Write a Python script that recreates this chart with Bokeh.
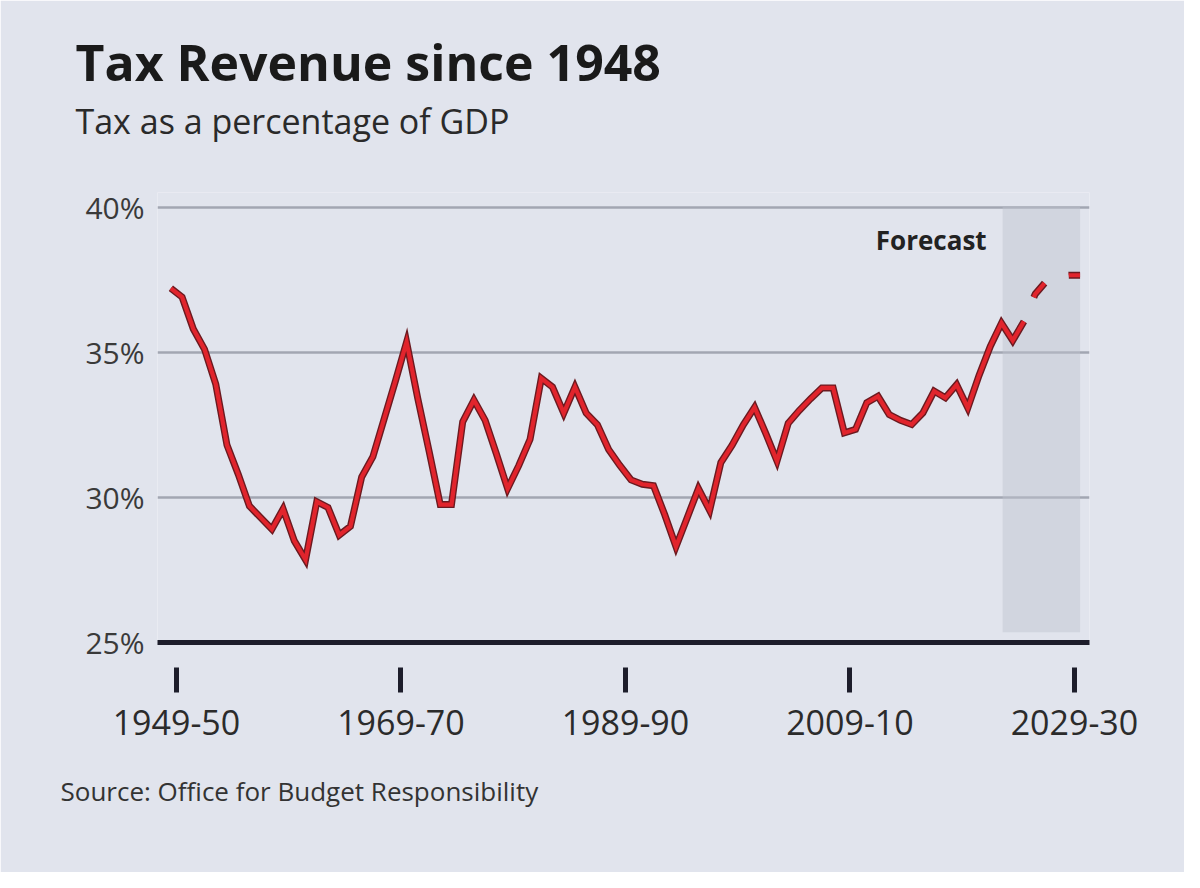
from bokeh.plotting import figure
from bokeh.models import Range1d, FixedTicker, Title, Label, BoxAnnotation
from bokeh.embed import file_html
from bokeh.resources import INLINE

# ---------------- data ----------------
outturn_years = list(range(1948, 2025))          # fiscal year start, e.g. 1948 -> 1948-49
outturn_pct = [
    37.2, 36.9, 35.8, 35.1, 33.9, 31.8, 30.8, 29.7, 29.3, 28.9,      # 1948-1957
    29.6, 28.5, 27.85, 29.85, 29.65, 28.7, 29.0, 30.7, 31.4, 32.7,   # 1958-1967
    34.0, 35.35, 33.4, 31.6, 29.75, 29.75, 32.6, 33.35, 32.65, 31.5, # 1968-1977
    30.3, 31.1, 32.0, 34.1, 33.8, 32.9, 33.8, 32.9, 32.5, 31.65,     # 1978-1987
    31.1, 30.6, 30.45, 30.4, 29.4, 28.3, 29.3, 30.3, 29.55, 31.2,    # 1988-1997
    31.8, 32.5, 33.1, 32.2, 31.25, 32.55, 33.0, 33.4, 33.77, 33.77,  # 1998-2007
    32.22, 32.34, 33.26, 33.48, 32.85, 32.65, 32.51, 32.91, 33.66, 33.43,  # 2008-2017
    33.88, 33.08, 34.2, 35.2, 36.0, 35.4, 36.06,                     # 2018-2024
]
forecast_years = [2024, 2025, 2026, 2027, 2028, 2029]
forecast_pct = [36.06, 37.0, 37.45, 37.6, 37.65, 37.65]

tick_years = [1949, 1969, 1989, 2009, 2029]
tick_labels = ["1949-50", "1969-70", "1989-90", "2009-10", "2029-30"]
y_ticks = [25, 30, 35, 40]
y_labels = ["25%", "30%", "35%", "40%"]
forecast_band = [2022.6, 2029.5]

# points sit in the middle of each fiscal year
x_out = [yr + 0.5 for yr in outturn_years]
x_fc = [yr + 0.5 for yr in forecast_years]

FONT = "Open Sans"
BG = "#e1e4ed"
INK = "#1d1d2b"

p = figure(
    width=1184, height=872,
    output_backend="svg", toolbar_location=None, title=None,
    x_range=Range1d(1947.31, 2030.34), y_range=Range1d(25, 40.5),
    min_border_left=157, min_border_right=95,
    min_border_top=192, min_border_bottom=230,
)
p.background_fill_color = BG
p.border_fill_color = BG
p.outline_line_color = None

# grid
p.xgrid.visible = False
p.ygrid.ticker = FixedTicker(ticks=y_ticks[1:])
p.ygrid.grid_line_color = "#a2a6b2"
p.ygrid.grid_line_width = 2.5

# x axis
xa = p.xaxis[0]
xa.ticker = FixedTicker(ticks=tick_years)
xa.major_label_overrides = dict(zip(tick_years, tick_labels))
xa.axis_line_width = 5
xa.axis_line_color = INK
xa.major_tick_line_width = 5
xa.major_tick_line_color = INK
xa.major_tick_in = -25
xa.major_tick_out = 50
xa.minor_tick_line_color = None
xa.major_label_standoff = 17
xa.major_label_text_font = FONT
xa.major_label_text_font_size = "34px"
xa.major_label_text_color = "#2b2b2b"

# y axis
ya = p.yaxis[0]
ya.ticker = FixedTicker(ticks=y_ticks)
ya.major_label_overrides = dict(zip(y_ticks, y_labels))
ya.axis_line_color = None
ya.major_tick_line_color = None
ya.minor_tick_line_color = None
ya.major_tick_in = 0
ya.major_tick_out = 0
ya.major_label_standoff = 13
ya.major_label_text_font = FONT
ya.major_label_text_font_size = "30px"
ya.major_label_text_color = "#3a3a3a"

# forecast shading
band = BoxAnnotation(left=forecast_band[0], right=forecast_band[1], bottom=25.35, top=40,
                     fill_color="#bfc3ce", fill_alpha=0.45, line_color=None, level="underlay")
p.add_layout(band)

# lines
p.line(x_out, outturn_pct, line_width=7, color="#6b1a20", line_join="miter")
p.line(x_out, outturn_pct, line_width=4.2, color="#e1242c", line_join="miter")
p.line(x_fc, forecast_pct, line_width=7, color="#6b1a20", line_dash="18 26", line_dash_offset=18)
p.line(x_fc, forecast_pct, line_width=4.2, color="#e1242c", line_dash="18 26", line_dash_offset=18)

p.add_layout(Label(x=forecast_band[0], y=y_ticks[-1], x_offset=-16, y_offset=-33, text="Forecast",
                   text_align="right", text_baseline="middle", text_font=FONT,
                   text_font_size="26px", text_font_style="bold", text_color="#222222"))

# titles: a thin spacer keeps the subtitle clear of the plot area
spacer = Title(text=" ", align="left", standoff=46, text_font=FONT, text_font_size="1px")
sub = Title(text="Tax as a percentage of GDP", align="left", offset=-82, standoff=0,
            text_font=FONT, text_font_size="34px", text_font_style="normal", text_color="#2a2a2a")
main = Title(text="Tax Revenue since 1948", align="left", offset=-82, standoff=0,
             text_font=FONT, text_font_size="50px", text_font_style="bold", text_color="#1a1a1a")
p.add_layout(spacer, "above")
p.add_layout(sub, "above")
p.add_layout(main, "above")

src = Title(text="Source: Office for Budget Responsibility", align="left", offset=-97, standoff=66,
            text_font=FONT, text_font_size="26px", text_font_style="normal", text_color="#333333")
p.add_layout(src, "below")

open("out.html", "w").write(file_html(p, INLINE))
